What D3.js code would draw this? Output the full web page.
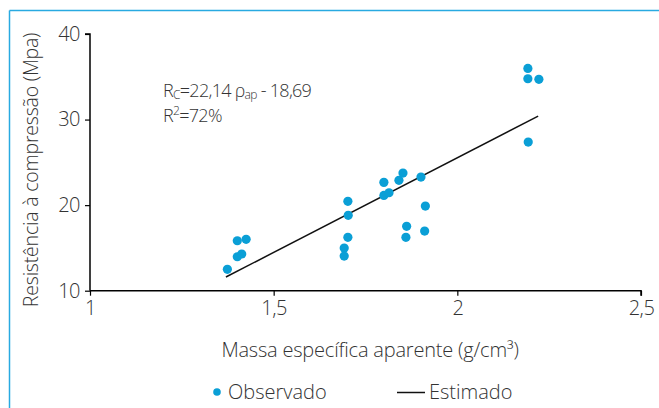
<!DOCTYPE html>
<html>
<head>
<meta charset="utf-8">
<script src="https://cdn.jsdelivr.net/npm/d3@7"></script>
<style>
  html, body { margin: 0; padding: 0; background: #fff; }
  svg { display: block; }
  text { font-family: "Open Sans", Lato, sans-serif; font-weight: 300; fill: #333; }
</style>
</head>
<body>
<svg id="chart" width="659" height="408"></svg>
<script>
// Observed data: massa específica aparente (g/cm³) vs resistência (MPa)
const obsX = [1.374, 1.401, 1.425, 1.401, 1.413,
              1.702, 1.703, 1.702, 1.692, 1.692,
              1.800, 1.800, 1.814, 1.841, 1.852, 1.901, 1.913, 1.862, 1.860, 1.911,
              2.192, 2.192, 2.222, 2.193];
const obsY = [12.50, 15.84, 16.00, 13.97, 14.29,
              20.44, 18.81, 16.24, 14.99, 14.05,
              22.66, 21.14, 21.45, 22.90, 23.75, 23.28, 19.89, 17.52, 16.24, 16.97,
              35.98, 34.77, 34.70, 27.37];
// Estimated line endpoints
const estX = [1.37, 2.22];
const estY = [11.6, 30.4];

const xTicks = [1, 1.5, 2, 2.5];
const yTicks = [10, 20, 30, 40];
const xTickLabels = ["1", "1,5", "2", "2,5"];
const yTickLabels = ["10", "20", "30", "40"];

const svg = d3.select("#chart");
const blue = "#0a9fd6";
const frame = "#29aae1";

// frame
svg.append("line").attr("x1", 9.5).attr("x2", 659).attr("y1", 10.5).attr("y2", 10.5)
  .attr("stroke", frame).attr("stroke-width", 1.5);
svg.append("line").attr("x1", 9.5).attr("x2", 9.5).attr("y1", 10.5).attr("y2", 408)
  .attr("stroke", frame).attr("stroke-width", 1.5);

const x = d3.scaleLinear().domain([1, 2.5]).range([90, 641]);
const y = d3.scaleLinear().domain([10, 40]).range([290.7, 34]);

const xAxis = d3.axisBottom(x).tickValues(xTicks).tickSize(5).tickPadding(5)
  .tickFormat((d, i) => xTickLabels[i]);
const yAxis = d3.axisLeft(y).tickValues(yTicks).tickSize(5).tickPadding(5)
  .tickFormat((d, i) => yTickLabels[i]);

const gx = svg.append("g").attr("transform", "translate(0,290.7)").call(xAxis);
const gy = svg.append("g").attr("transform", "translate(90,0)").call(yAxis);
[gx, gy].forEach(g => {
  g.select(".domain").attr("stroke", "#000").attr("stroke-width", 1.5);
  g.selectAll(".tick line").attr("stroke", "#000").attr("stroke-width", 1.2);
  g.selectAll(".tick text").attr("font-size", 20).attr("fill", "#333")
    .attr("font-family", '"Open Sans", Lato, sans-serif').attr("font-weight", 300)
    .attr("letter-spacing", -0.5);
});
gx.select(".domain").attr("d", `M90,0H641V5`);
gy.select(".domain").attr("d", `M-5,${y(40)}H0V${y(10)}`);

// estimated line
svg.append("path")
  .datum(estX.map((d, i) => [d, estY[i]]))
  .attr("d", d3.line().x(d => x(d[0])).y(d => y(d[1])))
  .attr("stroke", "#111").attr("stroke-width", 1.5).attr("fill", "none");

// observed points
svg.append("g").selectAll("circle")
  .data(obsX.map((d, i) => [d, obsY[i]]))
  .join("circle")
  .attr("cx", d => x(d[0])).attr("cy", d => y(d[1]))
  .attr("r", 4.6).attr("fill", blue);

// equation
const eq = svg.append("text").attr("x", 163).attr("y", 97).attr("font-size", 18)
  .attr("letter-spacing", -0.7);
eq.append("tspan").text("R");
eq.append("tspan").attr("font-size", 12).attr("dy", 2).text("C");
eq.append("tspan").attr("dy", -2).text("=22,14 ρ");
eq.append("tspan").attr("font-size", 12).attr("dy", 2).text("ap");
eq.append("tspan").attr("dy", -2).text(" - 18,69");
const r2 = svg.append("text").attr("x", 163).attr("y", 122).attr("font-size", 18)
  .attr("letter-spacing", -0.7);
r2.append("tspan").text("R");
r2.append("tspan").attr("font-size", 12).attr("dy", -7).text("2");
r2.append("tspan").attr("dy", 7).text("=72%");

// axis titles
svg.append("text").attr("x", 370).attr("y", 357).attr("text-anchor", "middle")
  .attr("font-size", 20).attr("letter-spacing", -0.2).text("Massa específica aparente (g/cm³)");
svg.append("text").attr("transform", "translate(38,170) rotate(-90)")
  .attr("text-anchor", "middle").attr("font-size", 19.5).attr("letter-spacing", -0.2)
  .text("Resistência à compressão (Mpa)");

// legend
svg.append("circle").attr("cx", 217).attr("cy", 392).attr("r", 3.8).attr("fill", blue);
svg.append("text").attr("x", 228).attr("y", 399).attr("font-size", 20).text("Observado");
svg.append("line").attr("x1", 397).attr("x2", 425).attr("y1", 392.5).attr("y2", 392.5)
  .attr("stroke", "#111").attr("stroke-width", 1.5);
svg.append("text").attr("x", 429).attr("y", 399).attr("font-size", 20).text("Estimado");
</script>
</body>
</html>
